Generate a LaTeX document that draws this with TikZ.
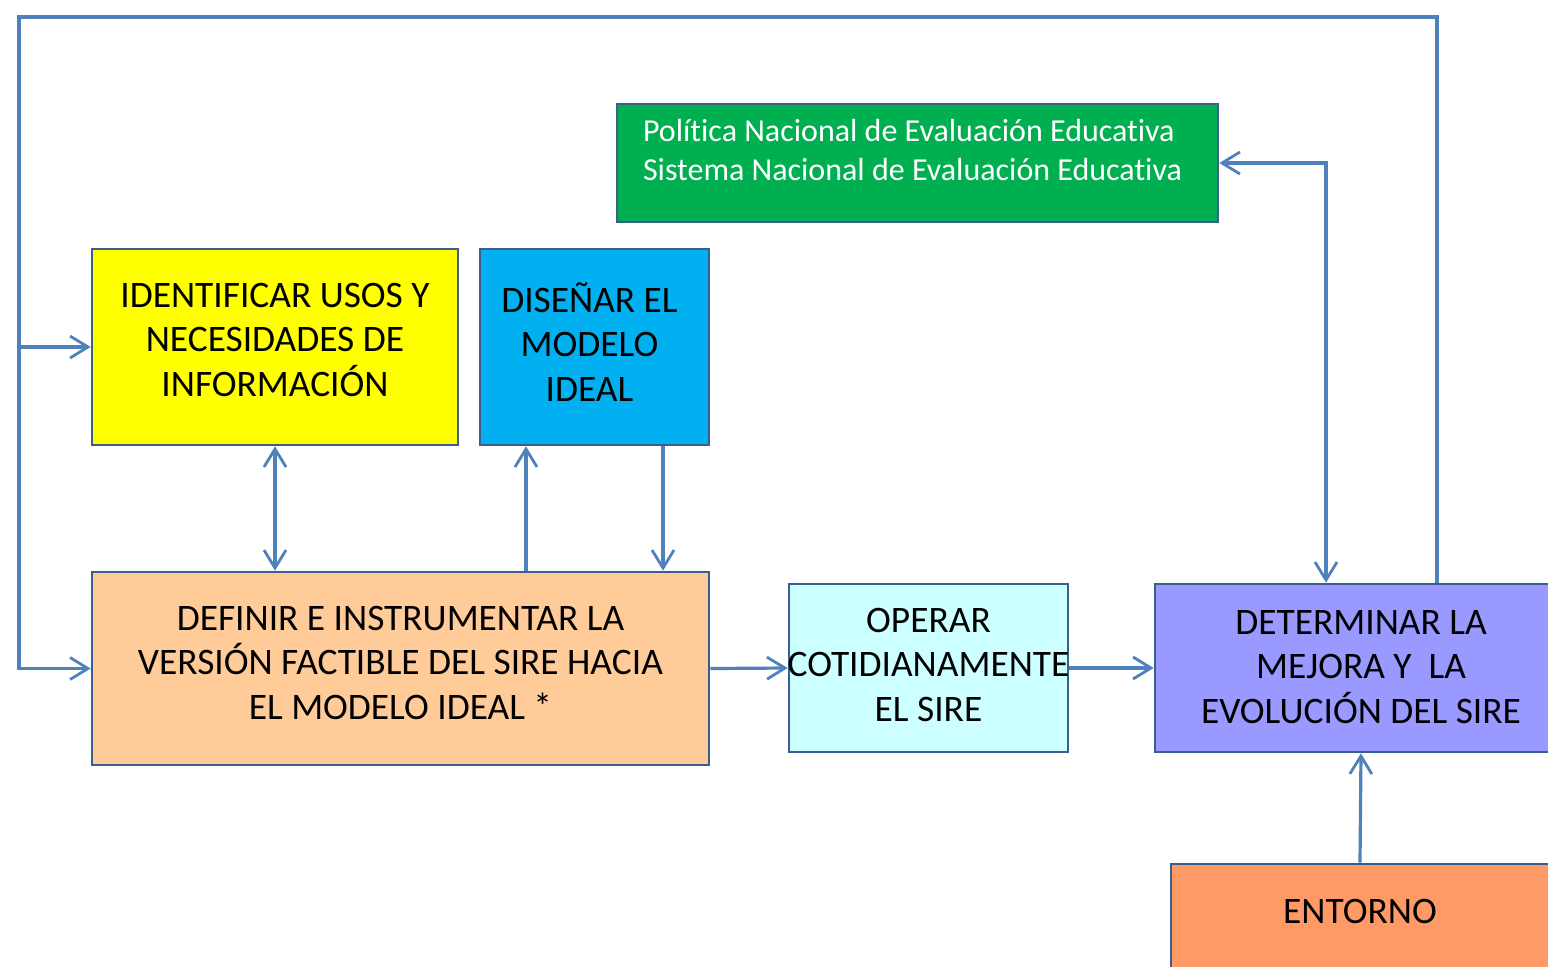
\documentclass[tikz,border=0pt]{standalone}
\usepackage{fontspec}
\setmainfont{Carlito}[Ligatures=NoCommon]
\usetikzlibrary{arrows.meta,calc}
\definecolor{lineblue}{HTML}{4F81BD}
\definecolor{borderblue}{HTML}{3A5F8E}
\definecolor{cyellow}{HTML}{FFFF00}
\definecolor{cblue}{HTML}{00B0F0}
\definecolor{cgreen}{HTML}{00B050}
\definecolor{cpeach}{HTML}{FFCC99}
\definecolor{ccyan}{HTML}{CCFFFF}
\definecolor{cpurple}{HTML}{9999FF}
\definecolor{corange}{HTML}{FF9966}
\newcommand{\boxtext}[2]{\raisebox{#1}[\height][\depth]{\begin{tabular}{@{}c@{}}#2\end{tabular}}}
\tikzset{
  box/.style={draw=borderblue, line width=1.3pt, rectangle, inner sep=0pt, align=center,
    font=\fontsize{18.7}{22.3}\selectfont},
  conn/.style={draw=lineblue, line width=1.6pt},
  tip/.tip={Straight Barb[length=9pt,width=11pt,line width=1.4pt]}
}
\begin{document}
\begin{tikzpicture}[x=0.5pt,y=-0.5pt]
\useasboundingbox (0,0) rectangle (1548,966);
\clip (0,0) rectangle (1548,966);
\fill[white] (0,0) rectangle (1548,966);

\node[box, fill=cyellow, minimum width=183pt, minimum height=98pt] (yellow) at (275,347)
  {\boxtext{2pt}{IDENTIFICAR USOS Y\\NECESIDADES DE\\INFORMACIÓN}};
\node[box, fill=cblue, minimum width=114.5pt, minimum height=98pt] (blue) at (594.5,347)
  {\hspace*{-5pt}\boxtext{-0.5pt}{DISEÑAR EL\\MODELO\\IDEAL}};
\node[box, fill=cgreen, minimum width=300.5pt, minimum height=59pt,
  align=left, text=white, font=\fontsize{16}{19.5}\selectfont] (green) at (917.5,163)
  {\raisebox{5pt}[\height][\depth]{\begin{tabular}{@{}l@{}}Política Nacional de Evaluación Educativa\\Sistema Nacional de Evaluación Educativa\end{tabular}}\hspace*{5pt}};
\node[box, fill=cpeach, minimum width=308.5pt, minimum height=96.5pt] (orange) at (400.5,668.5)
  {\boxtext{1.25pt}{DEFINIR E INSTRUMENTAR LA\\VERSIÓN FACTIBLE DEL SIRE HACIA\\EL MODELO IDEAL *}};
\node[box, fill=ccyan, minimum width=139.5pt, minimum height=84pt] (cyan) at (928.5,668)
  {\makebox[120pt]{\boxtext{0pt}{OPERAR\\COTIDIANAMENTE\\EL SIRE}}};
\node[box, fill=cpurple, minimum width=206pt, minimum height=84pt] (purple) at (1361,668)
  {\boxtext{-1pt}{DETERMINAR LA\\MEJORA Y\ \ LA\\EVOLUCIÓN DEL SIRE}};
\node[box, fill=corange, minimum width=189pt, minimum height=56pt] (entorno) at (1360,920)
  {\raisebox{9pt}{ENTORNO}};

\coordinate (tl) at (19,17);
\coordinate (tr) at (1437,17);
\coordinate (xa) at (526,0);
\coordinate (xb) at (663,0);
\coordinate (xg) at (1326,0);

\draw[conn,-tip] (purple.north -| tr) -- (tr) -- (tl) |- (orange.west);
\draw[conn,-tip] (tl |- yellow.west) -- (yellow.west);
\draw[conn,tip-tip] (yellow.south) -- (yellow.south |- orange.north);
\draw[conn,-tip] (xa |- orange.north) -- (xa |- blue.south);
\draw[conn,-tip] (xb |- blue.south) -- (xb |- orange.north);
\draw[conn,-tip] (orange.east) -- (cyan.west);
\draw[conn,-tip] (cyan.east) -- (purple.west);
\draw[conn,tip-tip] (green.east) -| (xg |- purple.north);
\draw[conn,-tip] (entorno.north) -- (purple.south);
\end{tikzpicture}
\end{document}
